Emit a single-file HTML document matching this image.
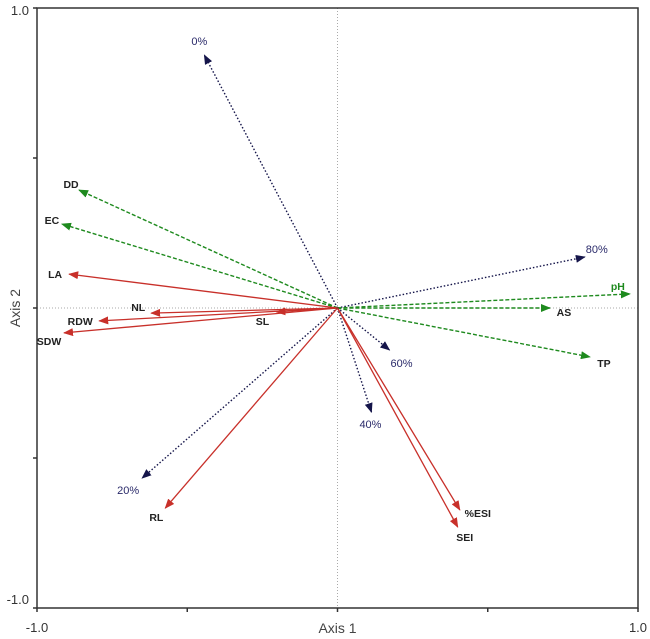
<!DOCTYPE html>
<html><head><meta charset="utf-8"><style>
body{margin:0;background:#fff}
svg{display:block;font-family:"Liberation Sans",sans-serif}
</style></head><body>
<svg width="650" height="639" viewBox="0 0 650 639">
<defs>
<marker id="mb" markerWidth="10" markerHeight="8" refX="9" refY="4" orient="auto" markerUnits="userSpaceOnUse"><path d="M0,0 L10,4 L0,8z" fill="#15154a"/></marker>
<marker id="mg" markerWidth="10" markerHeight="8" refX="9" refY="4" orient="auto" markerUnits="userSpaceOnUse"><path d="M0,0 L10,4 L0,8z" fill="#1e8a1e"/></marker>
<marker id="mr" markerWidth="10" markerHeight="8" refX="9" refY="4" orient="auto" markerUnits="userSpaceOnUse"><path d="M0,0 L10,4 L0,8z" fill="#c8302a"/></marker>
</defs>
<g id="frame"></g>
<g id="vecs"></g>
</svg>
<script>
const names=["0%","DD","EC","LA","NL","RDW","SDW","SL","80%","pH","AS","TP","60%","40%","%ESI","SEI","20%","RL"];
const xs=[-0.443,-0.86,-0.917,-0.893,-0.62,-0.793,-0.91,-0.203,0.823,0.973,0.707,0.84,0.173,0.113,0.407,0.4,-0.65,-0.573];
const ys=[0.843,0.393,0.28,0.113,-0.017,-0.043,-0.083,-0.013,0.17,0.047,0,-0.163,-0.14,-0.347,-0.673,-0.73,-0.567,-0.667];
const groups=["b","g","g","r","r","r","r","r","b","g","g","g","b","b","r","r","b","r"];
const tickVals=[-1,-0.5,0,0.5,1];
const tickLabels=["-1.0","","","","1.0"];
const L=37,R=638,T=8,B=608;
const sx=v=>L+(v+1)/2*(R-L), sy=v=>B-(v+1)/2*(B-T);
const NS="http://www.w3.org/2000/svg";
function mk(tag,attrs,parent,txt){const e=document.createElementNS(NS,tag);for(const k in attrs)e.setAttribute(k,attrs[k]);if(txt!==undefined)e.textContent=txt;parent.appendChild(e);return e;}
const F=document.getElementById('frame');
let e;
e=mk('line',{x1:sx(0),y1:T,x2:sx(0),y2:B,stroke:'#aaa','stroke-dasharray':'1,2','stroke-width':1},F);

e=mk('line',{x1:L,y1:sy(0),x2:R,y2:sy(0),stroke:'#aaa','stroke-dasharray':'1,2','stroke-width':1},F);

e=mk('rect',{x:L,y:T,width:R-L,height:B-T,fill:'none',stroke:'#333','stroke-width':1.5},F);

tickVals.forEach((v,i)=>{
 e=mk('line',{x1:sx(v),y1:B,x2:sx(v),y2:B+4,stroke:'#333','stroke-width':1.5},F);
 
 e=mk('line',{x1:L-4,y1:sy(v),x2:L,y2:sy(v),stroke:'#333','stroke-width':1.5},F);
 
 if(tickLabels[i]){
  e=mk('text',{x:sx(v),y:B+24,'text-anchor':'middle','font-size':13,fill:'#333'},F,tickLabels[i]);
  
  e=mk('text',{x:L-8,y:sy(v)+(v>0?7:-4),'text-anchor':'end','font-size':13,fill:'#333'},F,tickLabels[i]);
  
 }
});
e=mk('text',{x:sx(0),y:B+25,'text-anchor':'middle','font-size':14,fill:'#444'},F,'Axis 1');

e=mk('text',{x:20,y:sy(0),'text-anchor':'middle','font-size':14,fill:'#444',transform:`rotate(-90 20 ${sy(0)})`},F,'Axis 2');

const off={"0%":[-5,-14],"DD":[-8,-6],"EC":[-10,-4],"LA":[-14,0],"NL":[-13,-6],"RDW":[-19,0],"SDW":[-15,8],"SL":[-14,9],"80%":[12,-8],"pH":[-12,-8],"AS":[14,4],"TP":[14,6],"60%":[12,13],"40%":[-1,12],"%ESI":[18,3],"SEI":[7,10],"20%":[-14,12],"RL":[-9,9]};
const col={b:'#15154a',g:'#1e8a1e',r:'#c8302a'};
const dash={b:'1.5,2',g:'4,2',r:''};
const V=document.getElementById('vecs');
names.forEach((n,i)=>{
 const g=groups[i];
 const x2=sx(xs[i]),y2=sy(ys[i]);
 const a={x1:sx(0),y1:sy(0),x2:x2,y2:y2,stroke:col[g],'stroke-width':g==='r'?1.3:1.4,'marker-end':`url(#m${g})`};
 if(dash[g])a['stroke-dasharray']=dash[g];
 e=mk('line',a,V);
 
 
 const o=off[n];
 const tc=g==='b'?'#2a2a6a':(n==='pH'?'#1e8a1e':'#222');
 e=mk('text',{x:x2+o[0],y:y2+o[1]+4,'text-anchor':'middle','font-size':g==='b'?11:10.5,'font-weight':g==='b'?'normal':'bold',fill:tc},V,n);
 
 
});
</script>
</body></html>
